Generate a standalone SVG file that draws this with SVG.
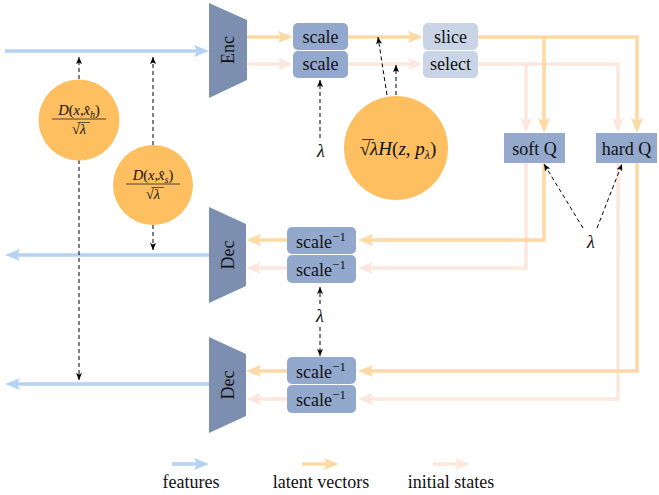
<svg xmlns="http://www.w3.org/2000/svg" width="659" height="495" viewBox="0 0 659 495">
<style>
.t{font-family:"Liberation Serif","Times New Roman",serif;fill:#111;}
.i{font-style:italic;}
.f{stroke:#b4d2f2;stroke-width:3.5;fill:none;}
.l{stroke:#fdd9a3;stroke-width:3.5;fill:none;}
.s{stroke:#fbe7dd;stroke-width:3.5;fill:none;}
.d{stroke:#000;stroke-width:1;stroke-dasharray:4 3;fill:none;marker-end:url(#aK);}
.coder{fill:#7d8fb0;}
.sc{fill:#93a8cd;}
.sl{fill:#cad4e7;}
.q{fill:#94a9cc;}
.c{fill:#fdbf60;}
</style>
<defs>
<marker id="aF" markerUnits="userSpaceOnUse" markerWidth="16" markerHeight="14" refX="3" refY="6" orient="auto"><path d="M0,0 L15,6 L0,12 L3,6 z" fill="#b4d2f2"/></marker>
<marker id="aL" markerUnits="userSpaceOnUse" markerWidth="16" markerHeight="14" refX="3" refY="6" orient="auto"><path d="M0,0 L15,6 L0,12 L3,6 z" fill="#fdd9a3"/></marker>
<marker id="aS" markerUnits="userSpaceOnUse" markerWidth="16" markerHeight="14" refX="3" refY="6" orient="auto"><path d="M0,0 L15,6 L0,12 L3,6 z" fill="#fbe7dd"/></marker>
<marker id="aK" markerUnits="userSpaceOnUse" markerWidth="8" markerHeight="8" refX="7" refY="4" orient="auto-start-reverse"><path d="M0,1 L7,4 L0,7 L1.5,4 z" fill="#000"/></marker>
</defs>

<g id="connectors">
<!-- features -->
<path class="f" d="M5,51 H197" marker-end="url(#aF)"/>
<path class="f" d="M209,255 H17" marker-end="url(#aF)"/>
<path class="f" d="M209,384 H17" marker-end="url(#aF)"/>
<!-- initial states -->
<path class="s" d="M247,64 H281" marker-end="url(#aS)"/>
<path class="s" d="M348,64 H411" marker-end="url(#aS)"/>
<path class="s" d="M478,64 H618 V121" marker-end="url(#aS)"/>
<path class="s" d="M526,64 V121" marker-end="url(#aS)"/>
<path class="s" d="M526,163 V268 H370" marker-end="url(#aS)"/>
<path class="s" d="M618,163 V399 H370" marker-end="url(#aS)"/>
<path class="s" d="M287,268 H258" marker-end="url(#aS)"/>
<path class="s" d="M287,399 H258" marker-end="url(#aS)"/>
<!-- latent -->
<path class="l" d="M247,37 H281" marker-end="url(#aL)"/>
<path class="l" d="M348,37 H411" marker-end="url(#aL)"/>
<path class="l" d="M478,37 H637 V121" marker-end="url(#aL)"/>
<path class="l" d="M544,37 V121" marker-end="url(#aL)"/>
<path class="l" d="M544,163 V240 H370" marker-end="url(#aL)"/>
<path class="l" d="M637,163 V371 H370" marker-end="url(#aL)"/>
<path class="l" d="M287,240 H258" marker-end="url(#aL)"/>
<path class="l" d="M287,371 H258" marker-end="url(#aL)"/>
<!-- dashed -->
<path class="d" d="M79,79 V57"/>
<path class="d" d="M79,160 V380"/>
<path class="d" d="M153,145 V57"/>
<path class="d" d="M153,225 V250"/>
<path class="d" d="M320,138 V80"/>
<path class="d" d="M387,95 L378,37"/>
<path class="d" d="M396,95 V65"/>
<path class="d" d="M320,304 V287"/>
<path class="d" d="M320,327 V356"/>
<path class="d" d="M583,228 L544,164"/>
<path class="d" d="M597,228 L622,164"/>
</g>

<g id="enc"><polygon class="coder" points="209,3 247,20 247,80 209,98"/><text class="t" font-size="18" text-anchor="middle" transform="translate(234,50) rotate(-90)">Enc</text></g>
<g id="dec1"><polygon class="coder" points="209,207 246,224 246,286 209,303"/><text class="t" font-size="18" text-anchor="middle" transform="translate(234,255) rotate(-90)">Dec</text></g>
<g id="dec2"><polygon class="coder" points="209,337 246,354 246,416 209,433"/><text class="t" font-size="18" text-anchor="middle" transform="translate(234,385) rotate(-90)">Dec</text></g>

<g id="scale1"><rect class="sc" x="293" y="23" width="55" height="27" rx="5"/><text class="t" font-size="18" x="320.5" y="43" text-anchor="middle">scale</text></g>
<g id="scale2"><rect class="sc" x="293" y="51" width="55" height="27" rx="5"/><text class="t" font-size="18" x="320.5" y="70" text-anchor="middle">scale</text></g>
<g id="slice"><rect class="sl" x="423" y="23" width="55" height="27" rx="5"/><text class="t" font-size="18" x="450.5" y="43" text-anchor="middle">slice</text></g>
<g id="select"><rect class="sl" x="423" y="51" width="55" height="27" rx="5"/><text class="t" font-size="18" x="450.5" y="70" text-anchor="middle">select</text></g>

<g id="softq"><rect class="q" x="504" y="133" width="61" height="30"/><text class="t" font-size="18" x="534.5" y="155" text-anchor="middle">soft Q</text></g>
<g id="hardq"><rect class="q" x="596" y="133" width="61" height="30"/><text class="t" font-size="18" x="626.5" y="155" text-anchor="middle">hard Q</text></g>

<g id="iscale1"><rect class="sc" x="287" y="227" width="69" height="27" rx="5"/><text class="t" font-size="18" x="321" y="248" text-anchor="middle">scale<tspan font-size="13" dy="-7">−1</tspan></text></g>
<g id="iscale2"><rect class="sc" x="287" y="255" width="69" height="28" rx="5"/><text class="t" font-size="18" x="321" y="276" text-anchor="middle">scale<tspan font-size="13" dy="-7">−1</tspan></text></g>
<g id="iscale3"><rect class="sc" x="287" y="357" width="69" height="27" rx="5"/><text class="t" font-size="18" x="321" y="378" text-anchor="middle">scale<tspan font-size="13" dy="-7">−1</tspan></text></g>
<g id="iscale4"><rect class="sc" x="287" y="385" width="69" height="28" rx="5"/><text class="t" font-size="18" x="321" y="406" text-anchor="middle">scale<tspan font-size="13" dy="-7">−1</tspan></text></g>

<g id="dh"><circle class="c" cx="79" cy="120" r="40.5"/>
<text class="t" font-size="14.5" x="79" y="115" text-anchor="middle"><tspan class="i">D</tspan>(<tspan class="i">x</tspan>,<tspan class="i">x̂</tspan><tspan class="i" font-size="10" dy="3">h</tspan><tspan dy="-3">)</tspan></text>
<line x1="52" y1="119" x2="106" y2="119" stroke="#222" stroke-width="0.8"/>
<text class="t" font-size="14.5" x="79" y="134" text-anchor="middle">√<tspan class="i">λ</tspan></text>
<line x1="77.5" y1="122.5" x2="90" y2="122.5" stroke="#222" stroke-width="0.7"/></g>

<g id="ds"><circle class="c" cx="153" cy="185" r="40"/>
<text class="t" font-size="14.5" x="153" y="180" text-anchor="middle"><tspan class="i">D</tspan>(<tspan class="i">x</tspan>,<tspan class="i">x̂</tspan><tspan class="i" font-size="10" dy="3">s</tspan><tspan dy="-3">)</tspan></text>
<line x1="126" y1="184" x2="180" y2="184" stroke="#222" stroke-width="0.8"/>
<text class="t" font-size="14.5" x="153" y="199" text-anchor="middle">√<tspan class="i">λ</tspan></text>
<line x1="151.5" y1="187.5" x2="164" y2="187.5" stroke="#222" stroke-width="0.7"/></g>

<g id="rate"><circle class="c" cx="396" cy="148" r="52"/>
<text class="t" font-size="19" x="398" y="155" text-anchor="middle">√<tspan class="i">λH</tspan>(<tspan class="i">z</tspan>, <tspan class="i">p</tspan><tspan class="i" font-size="12" dy="4">λ</tspan><tspan dy="-4">)</tspan></text>
<line x1="362" y1="139.5" x2="374" y2="139.5" stroke="#222" stroke-width="0.9"/></g>

<g id="lambdas">
<text class="t i" font-size="18" x="321" y="157" text-anchor="middle">λ</text>
<text class="t i" font-size="18" x="320" y="322" text-anchor="middle">λ</text>
<text class="t i" font-size="18" x="591" y="248" text-anchor="middle">λ</text>
</g>

<g id="legend">
<path class="f" d="M172,464 H197" marker-end="url(#aF)"/>
<path class="l" d="M302,464 H327" marker-end="url(#aL)"/>
<path class="s" d="M433,464 H458" marker-end="url(#aS)"/>
<text class="t" font-size="18" x="191" y="488" text-anchor="middle">features</text>
<text class="t" font-size="18" x="321" y="488" text-anchor="middle">latent vectors</text>
<text class="t" font-size="18" x="451" y="488" text-anchor="middle">initial states</text>
</g>
</svg>
